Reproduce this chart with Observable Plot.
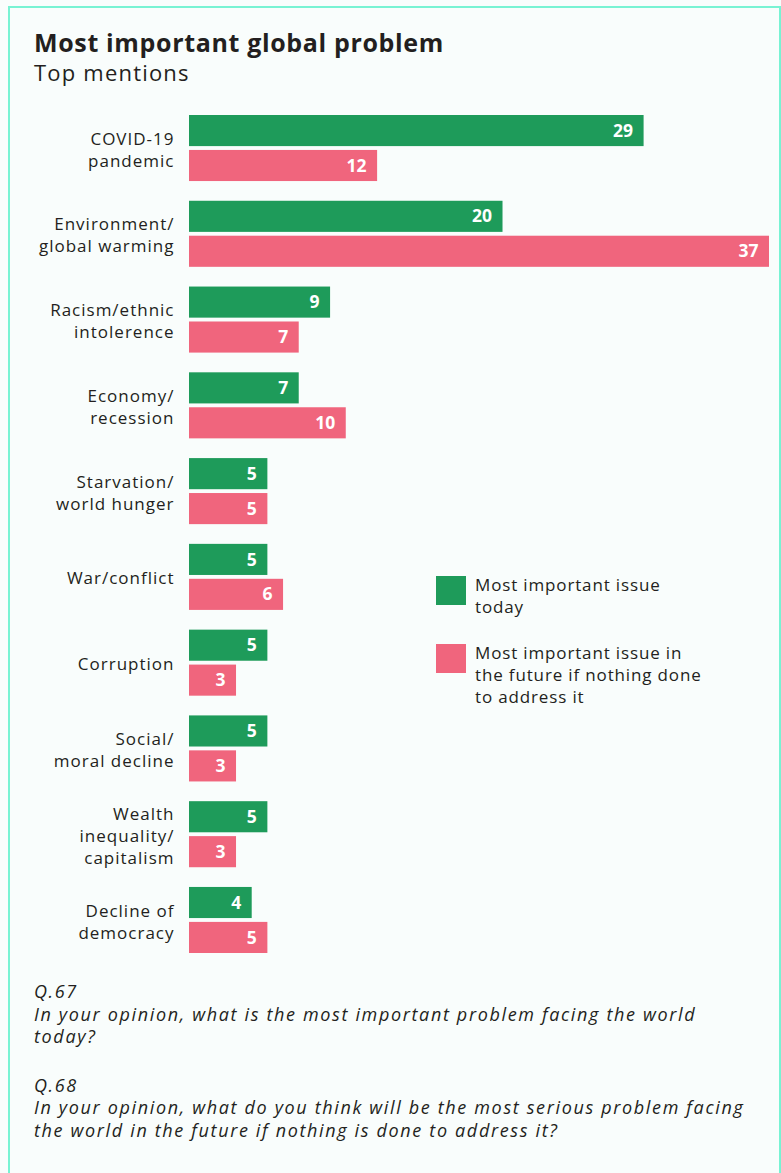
<!DOCTYPE html>
<html><head><meta charset="utf-8">
<script src="https://cdn.jsdelivr.net/npm/d3@7"></script>
<script src="https://cdn.jsdelivr.net/npm/@observablehq/plot@0.6"></script>
<style>
html,body{margin:0;padding:0;background:#f9fdfc;width:781px;height:1173px;overflow:hidden;font-family:"Open Sans",sans-serif;color:#231f20}
#frame{position:absolute;left:8px;top:6px;width:773px;height:1220px;border:2px solid #78f3d3;box-sizing:border-box}
#title{position:absolute;left:34px;top:27px;font-size:25px;font-weight:bold;line-height:30px;white-space:nowrap;letter-spacing:0.65px}
#subtitle{position:absolute;left:34px;top:57px;font-size:22px;line-height:30px;white-space:nowrap;letter-spacing:1.2px}
#chart{position:absolute;left:0;top:0}
#chart g[aria-label="fy-axis tick label"] text{letter-spacing:1px}
.lg{position:absolute;left:436px;width:30px;height:29px}
.lt{position:absolute;left:475px;font-size:17px;line-height:22px;white-space:nowrap;letter-spacing:0.85px}
#notes{position:absolute;left:34px;top:980px;font-size:18px;font-style:italic;line-height:22.5px;letter-spacing:1.65px;white-space:nowrap}
#notes p{margin:0 0 26px 0}
</style></head>
<body>
<div id="frame"></div>
<div id="chart"></div>
<div id="title">Most important global problem</div>
<div id="subtitle">Top mentions</div>
<div id="legend"></div>
<div id="notes"></div>
<script>
const categories = ["COVID-19\npandemic", "Environment/\nglobal warming", "Racism/ethnic\nintolerence", "Economy/\nrecession", "Starvation/\nworld hunger", "War/conflict", "Corruption", "Social/\nmoral decline", "Wealth\ninequality/\ncapitalism", "Decline of\ndemocracy"];
const today = [29, 20, 9, 7, 5, 5, 5, 5, 5, 4];
const future = [12, 37, 7, 10, 5, 6, 3, 3, 3, 5];
const seriesNames = ["Most important issue today", "Most important issue in the future if nothing done to address it"];
const legendLines = [["Most important issue", "today"], ["Most important issue in", "the future if nothing done", "to address it"]];
const colors = ["#1e9b5a", "#f0657d"];
const notes = [
  ["Q.67", "In your opinion, what is the most important problem facing the world", "today?"],
  ["Q.68", "In your opinion, what do you think will be the most serious problem facing", "the world in the future if nothing is done to address it?"]
];

const data = [];
categories.forEach((c, i) => {
  data.push({cat: c, series: seriesNames[0], value: today[i]});
  data.push({cat: c, series: seriesNames[1], value: future[i]});
});

const chart = Plot.plot({
  width: 781,
  height: 960,
  marginLeft: 189,
  marginRight: 12,
  marginTop: 115,
  marginBottom: 7,
  style: {fontFamily: "'Open Sans', sans-serif", background: "transparent", color: "#231f20"},
  x: {domain: [0, 37], axis: null},
  y: {domain: seriesNames, paddingInner: 0.11, paddingOuter: 0, round: false, axis: null},
  fy: {domain: categories, paddingInner: 0.23, paddingOuter: 0, round: false},
  color: {domain: seriesNames, range: colors},
  marks: [
    Plot.barX(data, {fy: "cat", y: "series", x: "value", fill: "series"}),
    Plot.text(data, {fy: "cat", y: "series", x: "value", text: d => String(d.value), textAnchor: "end", dx: -11, fill: "white", fontWeight: "bold", fontSize: 17.5}),
    Plot.axisFy({anchor: "left", tickSize: 0, tickPadding: 15, label: null, fontSize: 17, lineHeight: 1.3, fill: "#231f20"})
  ]
});
document.getElementById("chart").appendChild(chart);

const lg = document.getElementById("legend");
const tops = [576, 644];
seriesNames.forEach((s, i) => {
  const sw = document.createElement("div");
  sw.className = "lg"; sw.style.top = tops[i] + "px"; sw.style.background = colors[i];
  lg.appendChild(sw);
  const t = document.createElement("div");
  t.className = "lt"; t.style.top = (tops[i] - 2) + "px";
  t.innerHTML = legendLines[i].join("<br>");
  lg.appendChild(t);
});

const nt = document.getElementById("notes");
notes.forEach(n => {
  const p = document.createElement("p");
  p.innerHTML = n.join("<br>");
  nt.appendChild(p);
});
</script>
</body></html>
